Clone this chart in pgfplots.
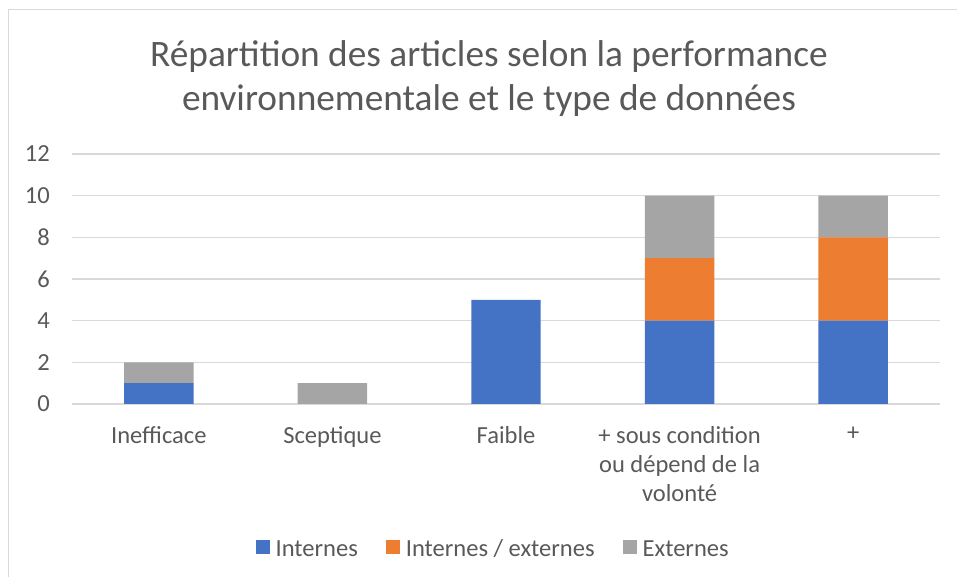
\documentclass[border=0pt]{standalone}
\usepackage{pgfplots}
\pgfplotsset{compat=1.18}
\usepackage{fontspec}
\setmainfont{Carlito}

\definecolor{cBlue}{HTML}{4472C4}
\definecolor{cOrange}{HTML}{ED7D31}
\definecolor{cGray}{HTML}{A5A5A5}
\definecolor{cText}{HTML}{595959}
\definecolor{cGrid}{HTML}{D9D9D9}

\begin{document}
\begin{tikzpicture}
\begin{axis}[
    at={(0,0)}, anchor=south west,
    scale only axis,
    width=651pt, height=187.5pt,
    ybar stacked,
    bar width=0.4,
    xmin=-0.5, xmax=4.5,
    ymin=0, ymax=12,
    ytick={0,2,...,12},
    xtick={0,1,2,3,4},
    xticklabels={Inefficace, Sceptique, Faible, {+ sous condition\\ou dépend de la\\volonté}, +},
    ymajorgrids,
    grid style={cGrid, line width=0.9pt},
    axis line style={draw=none},
    axis x line*=bottom,
    axis y line*=left,
    major tick length=0pt,
    tick style={draw=none},
    /pgf/number format/assume math mode=true,
    ticklabel style={font=\fontsize{18.4}{21.75}\selectfont, text=cText},
    yticklabel style={inner sep=0pt, xshift=-16.5pt},
    xticklabel style={align=center, inner sep=0pt, yshift=-17pt},
    legend style={at={(0.4856,-0.572)}, anchor=center, draw=none,
        legend columns=3, font=\fontsize{18.4}{21.75}\selectfont, text=cText,
        /tikz/every even column/.append style={column sep=19pt}},
    legend image code/.code={\fill[#1] (0pt,-5.25pt) rectangle (10.5pt,5.25pt);},
]
\addplot[fill=cBlue, draw=none] coordinates {(0,1) (1,0) (2,5) (3,4) (4,4)};
\addplot[fill=cOrange, draw=none] coordinates {(0,0) (1,0) (2,0) (3,3) (4,4)};
\addplot[fill=cGray, draw=none] coordinates {(0,1) (1,1) (2,0) (3,3) (4,2)};
\draw[cGrid, line width=0.9pt] (axis cs:-0.5,0) -- (axis cs:4.5,0);
\legend{\strut\hspace{2.5pt}Internes, \strut\hspace{2.5pt}Internes / externes, \strut\hspace{2.5pt}Externes}
\end{axis}
\begin{scope}[x=0.75pt, y=-0.75pt, shift={(-54pt,303pt)}]
\pgfresetboundingbox
\path[use as bounding box] (0,0) rectangle (957,577);
\draw[cGrid, line width=1.2pt] (8.5,577) -- (8.5,9.5) -- (957,9.5);
\node[font=\fontsize{28}{33}\selectfont, text=cText] at (489,57) {Répartition des articles selon la performance};
\node[font=\fontsize{28}{33}\selectfont, text=cText] at (489,101) {environnementale et le type de données};
\end{scope}
\end{tikzpicture}
\end{document}
